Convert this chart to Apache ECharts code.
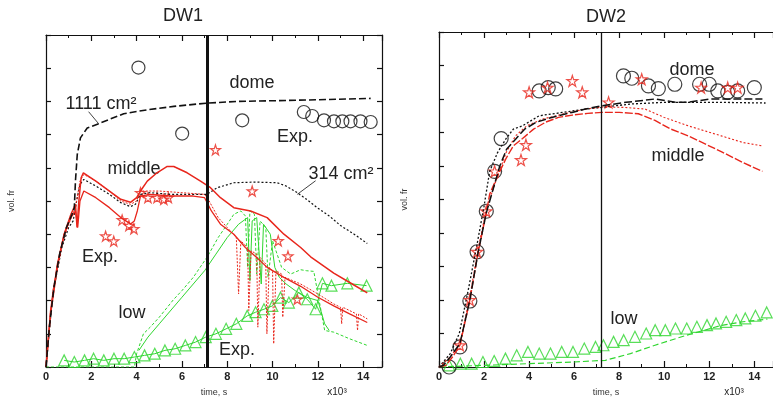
<!DOCTYPE html>
<html><head><meta charset="utf-8">
<script src="https://cdn.jsdelivr.net/npm/echarts/dist/echarts.min.js"></script>
<style>html,body{margin:0;padding:0;background:#fff}#c{width:773px;height:402px}</style>
</head><body><div id="c"></div>
<script>
// ---------- DATA (time in 10^3 s, volume fraction) ----------
const panelTitles = ['DW1', 'DW2'];
const xAxisName = 'time, s';
const yAxisName = 'vol. fr';
const xScaleNote = 'x10\u00B3';
const divideDW1 = 7.13;
const divideDW2 = 7.22;

// DW1
const dw1Dome1111 = [[0,0],[0.15,0.12],[0.35,0.24],[0.6,0.34],[0.9,0.42],[1.15,0.46],[1.25,0.48],[1.3,0.56],[1.38,0.64],[1.52,0.69],[1.82,0.72],[2.33,0.733],[3.43,0.763],[4.5,0.775],[5.64,0.785],[7.12,0.795],[8.5,0.8],[10.05,0.802],[12,0.805],[14.33,0.809]];
const dw1Dome314 = [[0,0],[0.3,0.22],[0.7,0.36],[1.0,0.42],[1.2,0.44],[1.35,0.5],[1.5,0.55],[1.67,0.565],[2.2,0.545],[2.8,0.52],[3.3,0.495],[3.73,0.483],[3.95,0.49],[4.17,0.52],[4.6,0.525],[5.5,0.52],[6.3,0.52],[7.1,0.52],[7.56,0.54],[8.29,0.555],[9.2,0.557],[10.2,0.555],[10.6,0.545],[11.09,0.525],[11.5,0.505],[11.97,0.48],[12.5,0.455],[13.0,0.426],[13.6,0.4],[14.18,0.372]];
const dw1MiddleA = [[0,0],[0.2,0.16],[0.5,0.3],[0.8,0.4],[1.1,0.46],[1.3,0.49],[1.37,0.42],[1.45,0.5],[1.55,0.57],[1.65,0.585],[2.2,0.56],[2.8,0.53],[3.3,0.505],[3.73,0.496],[4.0,0.51],[4.17,0.53],[4.47,0.56],[4.9,0.585],[5.35,0.604],[5.64,0.604],[6.23,0.585],[6.82,0.56],[7.26,0.54],[7.7,0.51],[8.29,0.48],[9.03,0.47],[9.76,0.45],[10.5,0.4],[11.24,0.36],[11.68,0.332],[12.7,0.283],[13.44,0.253],[14.18,0.223]];
const dw1MiddleB = [[0,0],[0.2,0.17],[0.5,0.31],[0.8,0.4],[1.1,0.45],[1.3,0.47],[1.4,0.42],[1.5,0.5],[1.67,0.53],[2.2,0.51],[2.8,0.48],[3.3,0.45],[3.73,0.431],[3.9,0.44],[4.03,0.47],[4.17,0.515],[4.6,0.52],[5.5,0.515],[6.5,0.515],[7.0,0.51],[7.3,0.47],[7.7,0.43],[8.29,0.4],[8.8,0.36],[9.3,0.33],[9.76,0.3],[10.5,0.27],[11.24,0.243],[12.0,0.21],[12.7,0.184],[13.4,0.16],[14.18,0.134]];
const dw1MiddleC = [[0,0],[0.3,0.23],[0.7,0.37],[1.0,0.43],[1.3,0.48],[1.5,0.56],[1.67,0.58],[2.2,0.56],[2.8,0.53],[3.3,0.5],[3.73,0.49],[4.0,0.5],[4.17,0.53],[5.0,0.53],[6.0,0.525],[7.0,0.52],[7.2,0.5],[7.6,0.45],[8.0,0.42],[8.4,0.39],[8.5,0.22],[8.6,0.38],[8.9,0.36],[8.95,0.17],[9.05,0.35],[9.3,0.34],[9.35,0.12],[9.45,0.33],[9.7,0.31],[9.75,0.1],[9.85,0.3],[10.0,0.29],[10.05,0.07],[10.15,0.29],[10.4,0.28],[10.45,0.15],[10.55,0.27],[11.24,0.25],[12.0,0.22],[12.7,0.19],[13.0,0.18],[13.05,0.13],[13.1,0.18],[13.7,0.16],[13.75,0.11],[13.8,0.16],[14.18,0.145]];
const dw1LowA = [[0,0],[3.9,0],[4.0,0.04],[4.3,0.1],[4.6,0.12],[5.0,0.15],[5.64,0.204],[6.0,0.23],[6.5,0.27],[7.12,0.332],[7.6,0.39],[8.0,0.43],[8.29,0.46],[8.6,0.47],[8.8,0.455],[8.9,0.3],[9.0,0.47],[9.2,0.46],[9.3,0.28],[9.45,0.44],[9.7,0.42],[9.8,0.27],[10.0,0.38],[10.2,0.34],[10.4,0.3],[10.8,0.28],[11.24,0.293],[11.5,0.29],[11.82,0.288],[12.1,0.184],[12.3,0.11],[12.7,0.105],[13.4,0.085],[14.18,0.065]];
const dw1LowB = [[4.1,0.05],[4.5,0.09],[5.0,0.13],[6.0,0.21],[7.0,0.29],[7.5,0.34],[8.0,0.39],[8.5,0.43],[8.9,0.45],[9.0,0.26],[9.1,0.44],[9.3,0.45],[9.5,0.25],[9.6,0.43],[9.9,0.4],[10.1,0.3],[10.3,0.27],[10.6,0.25],[11.0,0.23],[11.5,0.21],[12.0,0.2],[12.3,0.13],[12.5,0.11]];
const dw1LowExp = [[0.8,0.02],[1.25,0.015],[1.7,0.02],[2.1,0.025],[2.55,0.02],[3.0,0.025],[3.45,0.025],[3.9,0.03],[4.35,0.035],[4.8,0.04],[5.25,0.05],[5.7,0.055],[6.15,0.065],[6.6,0.075],[7.05,0.09],[7.5,0.1],[7.95,0.115],[8.4,0.13],[8.88,0.154],[9.25,0.165],[9.62,0.174],[9.99,0.184],[10.35,0.209],[10.72,0.194],[11.16,0.224],[11.53,0.204],[11.9,0.174],[12.2,0.252],[12.6,0.245],[13.3,0.252],[14.15,0.245]];
const dw1DomeExp = [[4.08,0.902],[6.01,0.703],[8.66,0.743],[11.38,0.768],[11.75,0.756],[12.27,0.743],[12.71,0.74],[13.08,0.74],[13.44,0.74],[13.88,0.74],[14.33,0.738]];
const dw1MiddleExp = [[2.63,0.394],[2.99,0.379],[3.36,0.443],[3.66,0.426],[3.88,0.416],[4.17,0.525],[4.5,0.51],[4.9,0.51],[5.2,0.505],[5.4,0.51],[7.48,0.654],[9.1,0.53],[10.25,0.38],[10.68,0.334],[11.09,0.204]];
const dw1Leader1111 = [[1.88,0.769],[2.32,0.733]];
const dw1Leader314 = [[11.9,0.561],[11.09,0.52]];

// DW2
const dw2DomeSim = [[0,0],[0.2,0.005],[0.5,0.03],[0.93,0.07],[1.37,0.2],[1.73,0.34],[2.1,0.46],[2.4,0.53],[2.7,0.6],[3.0,0.65],[3.4,0.68],[3.8,0.71],[4.3,0.73],[5.0,0.745],[5.9,0.76],[6.5,0.77],[7.24,0.78],[8.3,0.79],[9.59,0.8],[10.5,0.79],[11.06,0.79],[12.0,0.8],[12.53,0.8],[13.5,0.8],[14.36,0.8]];
const dw2DomeDotted = [[0,0],[0.5,0.04],[0.9,0.1],[1.3,0.23],[1.7,0.37],[2.0,0.48],[2.25,0.584],[2.6,0.64],[2.98,0.682],[3.3,0.71],[3.71,0.72],[4.45,0.75],[5.5,0.76],[6.5,0.77],[7.24,0.775],[8.5,0.785],[10,0.79],[11,0.79],[12.5,0.79],[14.5,0.788]];
const dw2MiddleSolid = [[0,0],[0.3,0.005],[0.6,0.03],[0.93,0.065],[1.37,0.2],[1.73,0.34],[2.1,0.46],[2.25,0.516],[2.6,0.57],[2.98,0.623],[3.3,0.66],[3.71,0.682],[4.2,0.71],[4.74,0.731],[5.3,0.745],[5.92,0.752],[6.6,0.757],[7.24,0.76],[8.0,0.76],[8.85,0.756],[9.59,0.736],[10.3,0.71],[11.06,0.69],[12.53,0.643],[13.5,0.61],[14.36,0.584]];
const dw2MiddleDotted = [[0,0],[0.5,0.03],[0.93,0.07],[1.37,0.21],[1.73,0.35],[2.1,0.47],[2.5,0.55],[2.98,0.64],[3.4,0.69],[3.9,0.72],[4.6,0.74],[5.5,0.755],[6.5,0.77],[7.24,0.776],[8.2,0.775],[9.15,0.77],[10.0,0.745],[11.06,0.72],[12.53,0.69],[13.5,0.67],[14.36,0.66]];
const dw2LowSim = [[0,0],[2,0.005],[4,0.01],[6,0.015],[7.39,0.02],[8.5,0.04],[9.59,0.065],[11,0.095],[12.53,0.124],[13.5,0.135],[14.58,0.143]];
const dw2LowExp = [[0.45,0.005],[0.95,0.01],[1.45,0.01],[1.95,0.015],[2.45,0.018],[2.95,0.025],[3.45,0.035],[3.95,0.045],[4.45,0.04],[4.95,0.04],[5.45,0.045],[5.95,0.045],[6.45,0.055],[6.95,0.06],[7.3,0.065],[7.75,0.075],[8.2,0.08],[8.7,0.09],[9.2,0.1],[9.6,0.11],[10.05,0.11],[10.5,0.115],[11.0,0.115],[11.45,0.12],[11.9,0.125],[12.3,0.13],[12.75,0.135],[13.2,0.14],[13.6,0.145],[14.05,0.153],[14.55,0.163]];
const dw2DomeExp = [[0.45,0.0],[0.93,0.06],[1.37,0.197],[1.69,0.344],[2.1,0.465],[2.47,0.584],[2.76,0.682],[4.45,0.824],[4.85,0.834],[5.18,0.83],[8.19,0.869],[8.56,0.862],[9.3,0.839],[9.74,0.831],[10.47,0.844],[11.57,0.844],[12.0,0.844],[12.38,0.824],[12.82,0.82],[13.26,0.824],[14.0,0.834]];
const dw2MiddleExp = [[0.93,0.065],[1.37,0.2],[1.69,0.344],[2.1,0.465],[2.47,0.584],[3.64,0.618],[3.86,0.663],[4.0,0.82],[4.82,0.834],[5.92,0.854],[6.36,0.82],[7.53,0.79],[9.0,0.859],[11.64,0.834],[12.82,0.834],[13.26,0.834]];

// ---------- CHART ----------
const RED = '#e8261c', GREEN = '#2fd62f', BLACK = '#111';
const STAR = 'path://M50,2 L61,36 L97,36 L68,57 L79,92 L50,71 L21,92 L32,57 L3,36 L39,36 Z';
const XMAX = 14.83;
const grids = [
  {left: 46, top: 35, width: 336, height: 337},
  {left: 439, top: 32, width: 337, height: 340}
];
function xAx(g, pos) {
  return {type: 'value', gridIndex: g, position: pos, min: 0, max: XMAX, interval: 2,
    axisLine: {show: true, onZero: false, lineStyle: {color: BLACK, width: 1.2}},
    axisTick: {show: true, inside: true, length: 6, lineStyle: {color: BLACK, width: 1.2}},
    minorTick: {show: true, splitNumber: 2, length: 3, lineStyle: {color: BLACK}},
    axisLabel: {show: pos === 'bottom', margin: 4, fontSize: 11, color: '#222', fontFamily: 'Liberation Sans', fontWeight: 'bold',
      showMaxLabel: false},
    splitLine: {show: false},
    name: pos === 'bottom' ? xAxisName : '', nameLocation: 'middle', nameGap: 21,
    nameTextStyle: {fontSize: 9, color: '#333', fontFamily: 'Liberation Sans'}};
}
function yAx(g, pos, visible) {
  return {type: 'value', gridIndex: g, position: pos, min: 0, max: 1, interval: 0.1, show: visible !== false,
    axisLine: {show: true, onZero: false, lineStyle: {color: BLACK, width: 1.2}},
    axisTick: {show: true, inside: true, length: 5, lineStyle: {color: BLACK, width: 1.2}},
    axisLabel: {show: false}, splitLine: {show: false},
    name: pos === 'left' ? yAxisName : '', nameLocation: 'middle', nameGap: 30, nameRotate: 90,
    nameTextStyle: {fontSize: 9, color: '#333', fontFamily: 'Liberation Sans'}};
}
function line(data, g, color, width, type) {
  return {type: 'line', data: data, xAxisIndex: g * 2, yAxisIndex: g * 2,
    showSymbol: false, symbol: 'none', silent: true, animation: false,
    lineStyle: {color: color, width: width, type: type}};
}
function scat(data, g, symbol, size, color) {
  return {type: 'scatter', data: data, xAxisIndex: g * 2, yAxisIndex: g * 2,
    symbol: symbol, symbolSize: size, silent: true, animation: false,
    itemStyle: {color: 'rgba(255,255,255,0)', borderColor: color, borderWidth: 1.2}};
}
function vline(v, g, w) {
  return {type: 'line', data: [], xAxisIndex: g * 2, yAxisIndex: g * 2, animation: false,
    markLine: {silent: true, symbol: 'none', label: {show: false}, animation: false,
      lineStyle: {color: BLACK, width: w, type: 'solid'}, data: [{xAxis: v}]}};
}
const series = [
  vline(divideDW1, 0, 3),
  line(dw1LowA, 0, GREEN, 1, [3, 2]),
  line(dw1LowB, 0, GREEN, 1, 'solid'),
  line(dw1LowExp, 0, GREEN, 1, 'solid'),
  scat(dw1LowExp, 0, 'triangle', 11, GREEN),
  line(dw1Dome314, 0, BLACK, 1.2, [2, 2]),
  line(dw1MiddleC, 0, RED, 1, [2, 1.5]),
  line(dw1MiddleB, 0, RED, 1.3, 'solid'),
  line(dw1MiddleA, 0, RED, 1.5, 'solid'),
  line(dw1Dome1111, 0, BLACK, 1.6, [7, 3]),
  line(dw1Leader1111, 0, BLACK, 0.8, 'solid'),
  line(dw1Leader314, 0, BLACK, 0.8, 'solid'),
  scat(dw1DomeExp, 0, 'circle', 13, BLACK),
  scat(dw1MiddleExp, 0, STAR, 10, RED),

  vline(divideDW2, 1, 1.3),
  line(dw2LowSim, 1, GREEN, 1.2, [6, 3]),
  scat(dw2LowExp, 1, 'triangle', 11, GREEN),
  line(dw2DomeDotted, 1, BLACK, 1.3, [2, 2]),
  line(dw2MiddleDotted, 1, RED, 1.1, [2, 2]),
  line(dw2MiddleSolid, 1, RED, 1.4, [8, 2]),
  line(dw2DomeSim, 1, BLACK, 1.5, [8, 3]),
  scat(dw2DomeExp, 1, 'circle', 14, BLACK),
  scat(dw2MiddleExp, 1, STAR, 11, RED)
];
function ctext(x, y, s, size) {
  return {type: 'text', x: x, y: y, style: {text: s, font: (size || 18) + 'px "Liberation Sans"', fill: '#222',
    align: 'center', verticalAlign: 'middle'}, silent: true};
}
const labels = [
  ctext(183, 16, panelTitles[0]), ctext(606, 17, panelTitles[1]),
  ctext(101, 104, '1111 cm\u00B2'), ctext(252, 83, 'dome'), ctext(295, 137, 'Exp.'),
  ctext(134, 169, 'middle'), ctext(341, 174, '314 cm\u00B2'), ctext(100, 257, 'Exp.'),
  ctext(132, 313, 'low'), ctext(237, 350, 'Exp.'),
  ctext(692, 70, 'dome'), ctext(678, 156, 'middle'), ctext(624, 319, 'low'),
  ctext(337, 392, xScaleNote, 10), ctext(734, 392, xScaleNote, 10)
];
const chart = echarts.init(document.getElementById('c'), null, {renderer: 'canvas'});
chart.setOption({
  animation: false,
  backgroundColor: '#fff',
  grid: grids,
  xAxis: [xAx(0, 'bottom'), xAx(0, 'top'), xAx(1, 'bottom'), xAx(1, 'top')],
  yAxis: [yAx(0, 'left'), yAx(0, 'right'), yAx(1, 'left'), yAx(1, 'right', false)],
  series: series,
  graphic: labels
});
</script></body></html>
